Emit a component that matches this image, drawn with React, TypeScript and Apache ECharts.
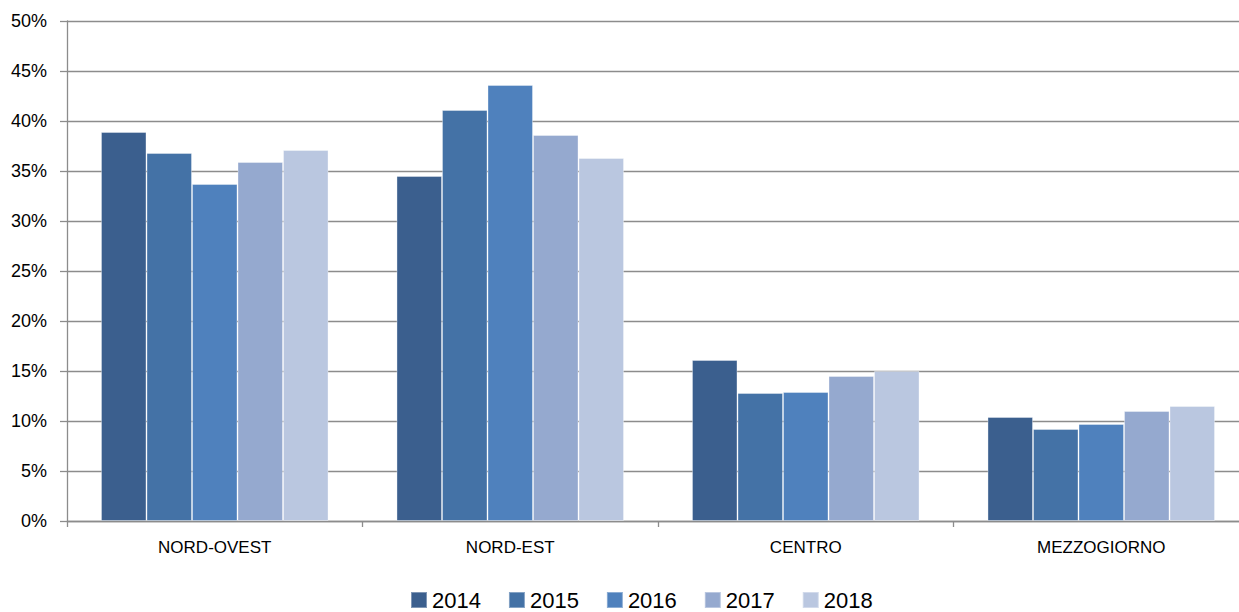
import React, { useEffect, useRef } from "react";
import * as echarts from "echarts";

const categories = ["NORD-OVEST", "NORD-EST", "CENTRO", "MEZZOGIORNO"];
const years = ["2014", "2015", "2016", "2017", "2018"];
const v2014 = [38.9, 34.5, 16.1, 10.4];
const v2015 = [36.8, 41.1, 12.8, 9.2];
const v2016 = [33.7, 43.6, 12.9, 9.7];
const v2017 = [35.9, 38.6, 14.5, 11.0];
const v2018 = [37.1, 36.3, 15.0, 11.5];
const yTicks = [0, 5, 10, 15, 20, 25, 30, 35, 40, 45, 50];

const seriesValues = [v2014, v2015, v2016, v2017, v2018];
const colors = ["#3B5F8E", "#4472A6", "#4F81BD", "#95A9CF", "#BAC7E0"];

export default function App() {
  const ref = useRef<HTMLDivElement>(null);
  useEffect(() => {
    if (!ref.current) return;
    const chart = echarts.init(ref.current, null, { renderer: "svg" });
    const font = "'Liberation Sans', Arial, sans-serif";
    chart.setOption({
      animation: false,
      backgroundColor: "#ffffff",
      textStyle: { fontFamily: font },
      grid: { left: 67, right: 0, top: 21, bottom: 91, containLabel: false },
      legend: {
        top: 589,
        left: 410,
        padding: 0,
        itemWidth: 16,
        itemHeight: 16,
        itemGap: 27,
        icon: "rect",
        textStyle: { fontSize: 22, lineHeight: 22, color: "#000", fontFamily: font },
        data: years,
      },
      xAxis: {
        type: "category",
        data: categories,
        axisLine: { show: true, lineStyle: { color: "#8C8C8C", width: 1.3 } },
        axisTick: { show: true, length: 6, lineStyle: { color: "#8C8C8C", width: 1.3 } },
        axisLabel: { fontSize: 17, color: "#000", margin: 18, fontFamily: font },
      },
      yAxis: {
        type: "value",
        min: yTicks[0],
        max: yTicks[yTicks.length - 1],
        interval: 5,
        axisLine: { show: true, lineStyle: { color: "#8C8C8C", width: 1.3 } },
        axisTick: { show: true, length: 7, lineStyle: { color: "#8C8C8C", width: 1.3 } },
        splitLine: { show: true, lineStyle: { color: "#8C8C8C", width: 1.3 } },
        axisLabel: {
          fontSize: 18,
          color: "#000",
          margin: 20,
          fontFamily: font,
          formatter: (v: number) => `${v}%`,
        },
      },
      series: years.map((y, i) => ({
        name: y,
        type: "bar",
        data: seriesValues[i],
        barGap: "0%",
        barCategoryGap: "23%",
        itemStyle: {
          color: colors[i],
          borderColor: "rgba(255,255,255,0.35)",
          borderWidth: 1,
        },
      })),
    });
    return () => chart.dispose();
  }, []);
  return (
    <div
      ref={ref}
      style={{ position: "fixed", left: 0, top: 0, width: 1249, height: 612 }}
    />
  );
}
